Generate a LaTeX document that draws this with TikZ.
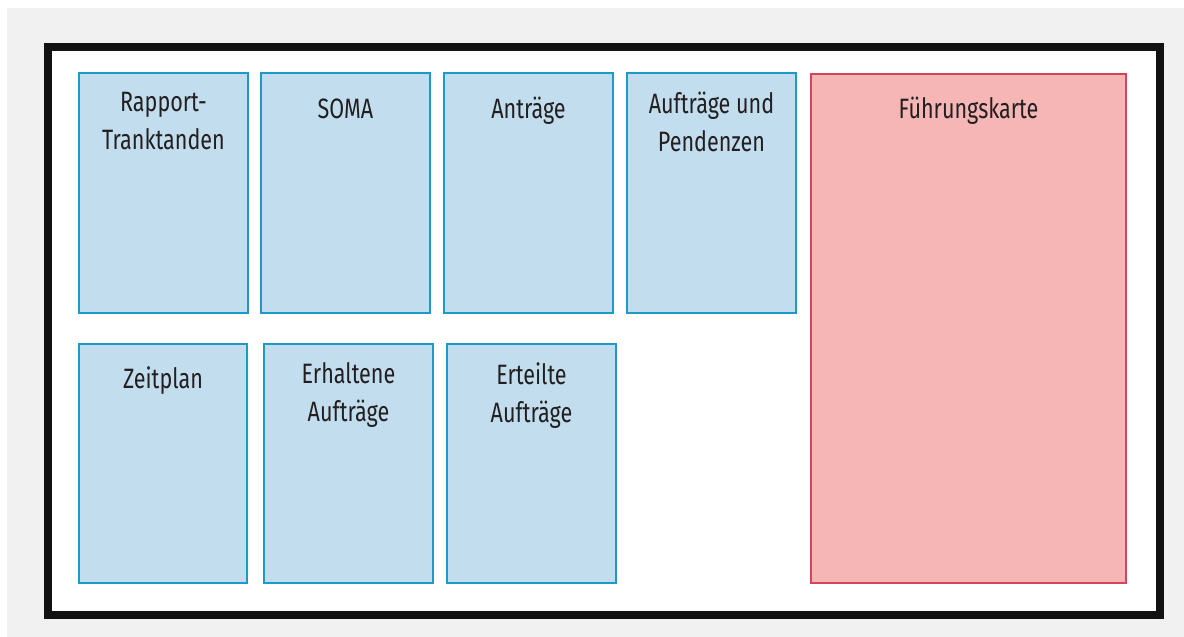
\documentclass[tikz,border=0pt]{standalone}
\usepackage{fontspec}
\setmainfont{Fira Sans}[FakeStretch=0.77]
\definecolor{bggray}{RGB}{241,241,241}
\definecolor{framegray}{RGB}{18,18,18}
\definecolor{bluefill}{RGB}{194,221,238}
\definecolor{blueline}{RGB}{30,154,200}
\definecolor{pinkfill}{RGB}{246,182,181}
\definecolor{pinkline}{RGB}{216,67,90}
\definecolor{textgray}{RGB}{35,31,32}
\tikzset{
	bluebox/.style={line width=2pt, draw=blueline, fill=bluefill},
	pinkbox/.style={line width=2pt, draw=pinkline, fill=pinkfill},
	boxlabel/.style={anchor=north, inner sep=0pt, align=center, text=textgray,
		font=\fontsize{28}{38}\selectfont, execute at begin node=\strut}
}
\begin{document}
\begin{tikzpicture}[x=1pt,y=-1pt]

	%Background
	\useasboundingbox (0,0) rectangle (1184,637);
	\fill[bggray] (7,8) rectangle (1184,637);

	%Frame
	\draw[line width=8pt, draw=framegray, fill=white] (48,47) rectangle (1160,615);

	%Upper row
	\draw[bluebox] (79,73) rectangle (248,313);
	\node[boxlabel] (rapport) at (163.5,92) {Rapport-\\Tranktanden};

	\draw[bluebox] (261,73) rectangle (430,313);
	\node[boxlabel] (soma) at (345.5,92) {SOMA};

	\draw[bluebox] (444,73) rectangle (613,313);
	\node[boxlabel] (antraege) at (528.5,92) {Anträge};

	\draw[bluebox] (627,73) rectangle (796,313);
	\node[boxlabel] (pendenzen) at (711.5,92) {Aufträge und\\Pendenzen};

	%Lower row
	\draw[bluebox] (79,344) rectangle (247,583);
	\node[boxlabel] (zeitplan) at (163,362) {Zeitplan};

	\draw[bluebox] (264,344) rectangle (433,583);
	\node[boxlabel] (erhalten) at (348.5,362) {Erhaltene\\Aufträge};

	\draw[bluebox] (447,344) rectangle (616,583);
	\node[boxlabel] (erteilt) at (531.5,362) {Erteilte\\Aufträge};

	%Fuehrungskarte
	\draw[pinkbox] (811,74) rectangle (1126,583);
	\node[boxlabel] (karte) at (968.5,92) {Führungskarte};

\end{tikzpicture}
\end{document}
